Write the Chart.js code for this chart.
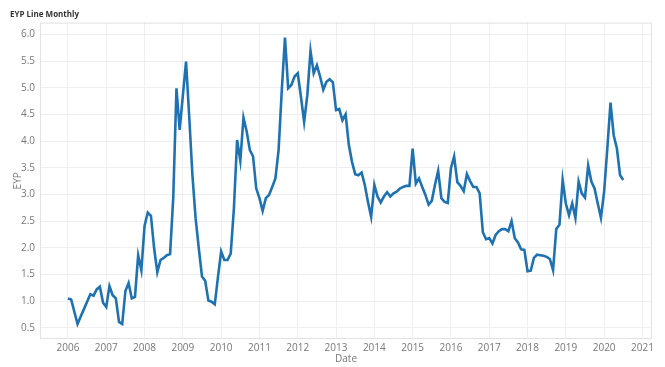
<!DOCTYPE html>
<html>
<head>
<meta charset="utf-8">
<script src="https://cdn.jsdelivr.net/npm/chart.js@4/dist/chart.umd.min.js"></script>
<style>
html,body{margin:0;padding:0;background:#fff;}
#wrap{width:665px;height:367px;position:relative;}
</style>
</head>
<body>
<div id="wrap"><canvas id="grafico"></canvas></div>
<script>

/* =============================
DADOS (EYP mensal, jan/2006 - jul/2020)
============================= */

const anoInicial=2006;

const eyp2006=[1.05,1.03,0.80,0.57,0.71,0.85,0.99,1.13,1.10,1.22,1.27,0.97];
const eyp2007=[0.89,1.28,1.11,1.05,0.61,0.57,1.19,1.34,1.05,1.08,1.86,1.58];
const eyp2008=[2.41,2.66,2.60,1.99,1.54,1.77,1.81,1.86,1.88,2.95,4.99,4.21];
const eyp2009=[4.85,5.49,4.45,3.36,2.55,1.99,1.46,1.38,1.01,0.99,0.94,1.45];
const eyp2010=[1.93,1.77,1.77,1.89,2.74,4.02,3.63,4.44,4.18,3.83,3.71,3.11];
const eyp2011=[2.93,2.69,2.93,2.99,3.14,3.30,3.83,4.95,5.94,4.99,5.05,5.21];
const eyp2012=[5.27,4.83,4.36,4.86,5.69,5.27,5.42,5.21,4.96,5.11,5.16,5.10];
const eyp2013=[4.58,4.60,4.39,4.50,3.93,3.61,3.38,3.36,3.41,3.18,2.86,2.58];
const eyp2014=[3.18,2.96,2.85,2.96,3.04,2.96,3.02,3.05,3.11,3.14,3.16,3.16];
const eyp2015=[3.86,3.20,3.30,3.14,2.99,2.81,2.88,3.18,3.44,2.93,2.86,2.84];
const eyp2016=[3.49,3.71,3.23,3.16,3.06,3.38,3.25,3.14,3.14,3.02,2.29,2.16];
const eyp2017=[2.18,2.08,2.24,2.31,2.35,2.35,2.31,2.50,2.18,2.10,1.97,1.96];
const eyp2018=[1.56,1.57,1.81,1.87,1.86,1.85,1.83,1.79,1.58,2.35,2.43,3.27];
const eyp2019=[2.83,2.61,2.83,2.56,3.24,3.02,2.94,3.54,3.24,3.11,2.83,2.56];
const eyp2020=[3.05,3.86,4.72,4.11,3.86,3.36,3.27];

const ticksX=[2006,2007,2008,2009,2010,2011,2012,2013,2014,2015,2016,2017,2018,2019,2020,2021];
const ticksY=[0.5,1.0,1.5,2.0,2.5,3.0,3.5,4.0,4.5,5.0,5.5,6.0];

/* =============================
SERIE CONTINUA
============================= */

const serie=[
...eyp2006,...eyp2007,...eyp2008,...eyp2009,...eyp2010,
...eyp2011,...eyp2012,...eyp2013,...eyp2014,...eyp2015,
...eyp2016,...eyp2017,...eyp2018,...eyp2019,...eyp2020
];

const pontos=serie.map((v,i)=>({x:anoInicial+i/12,y:v}));

/* moldura da area do grafico */
const moldura={
id:"moldura",
afterDraw(chart){
const a=chart.chartArea;
const ctx=chart.ctx;
ctx.save();
ctx.strokeStyle="#e2e2e2";
ctx.lineWidth=1;
ctx.strokeRect(a.left+0.5,a.top+0.5,a.right-a.left-1,a.bottom-a.top-1);
ctx.restore();
}
};

const fonte="'Open Sans', Lato, sans-serif";

new Chart(
document.getElementById("grafico"),
{
type:"line",
data:{
datasets:[
{
label:"EYP",
data:pontos,
borderColor:"#1f72b2",
borderWidth:2.6,
pointRadius:0,
tension:0,
fill:false
}
]
},
options:{
responsive:true,
maintainAspectRatio:false,
animation:false,
layout:{padding:{left:10,right:13,top:0,bottom:0}},
plugins:{
legend:{display:false},
tooltip:{enabled:false},
title:{
display:true,
text:"EYP Line Monthly",
align:"start",
color:"#333",
font:{family:fonte,size:8,weight:"bold"},
padding:{top:10,bottom:3}
}
},
scales:{
x:{
type:"linear",
min:2005.27,
max:2021.25,
afterBuildTicks:(s)=>{s.ticks=ticksX.map(v=>({value:v}));},
afterFit:(s)=>{s.height=28;},
grid:{color:"#efefef",drawTicks:false},
border:{display:false},
ticks:{
color:"#777",
font:{family:fonte,size:10},
padding:3,
callback:(v)=>String(v)
},
title:{
display:true,
text:"Date",
color:"#777",
font:{family:fonte,size:10},
padding:{top:0,bottom:2}
}
},
y:{
min:0.29,
max:6.22,
afterBuildTicks:(s)=>{s.ticks=ticksY.map(v=>({value:v}));},
afterFit:(s)=>{s.width=30;},
grid:{color:"#efefef",drawTicks:false},
border:{display:false},
ticks:{
color:"#777",
font:{family:fonte,size:10},
padding:5,
callback:(v)=>v.toFixed(1)
},
title:{
display:true,
text:"EYP",
color:"#777",
font:{family:fonte,size:10},
padding:{top:2,bottom:0}
}
}
}
},
plugins:[moldura]
}
);

</script>
</body>
</html>
